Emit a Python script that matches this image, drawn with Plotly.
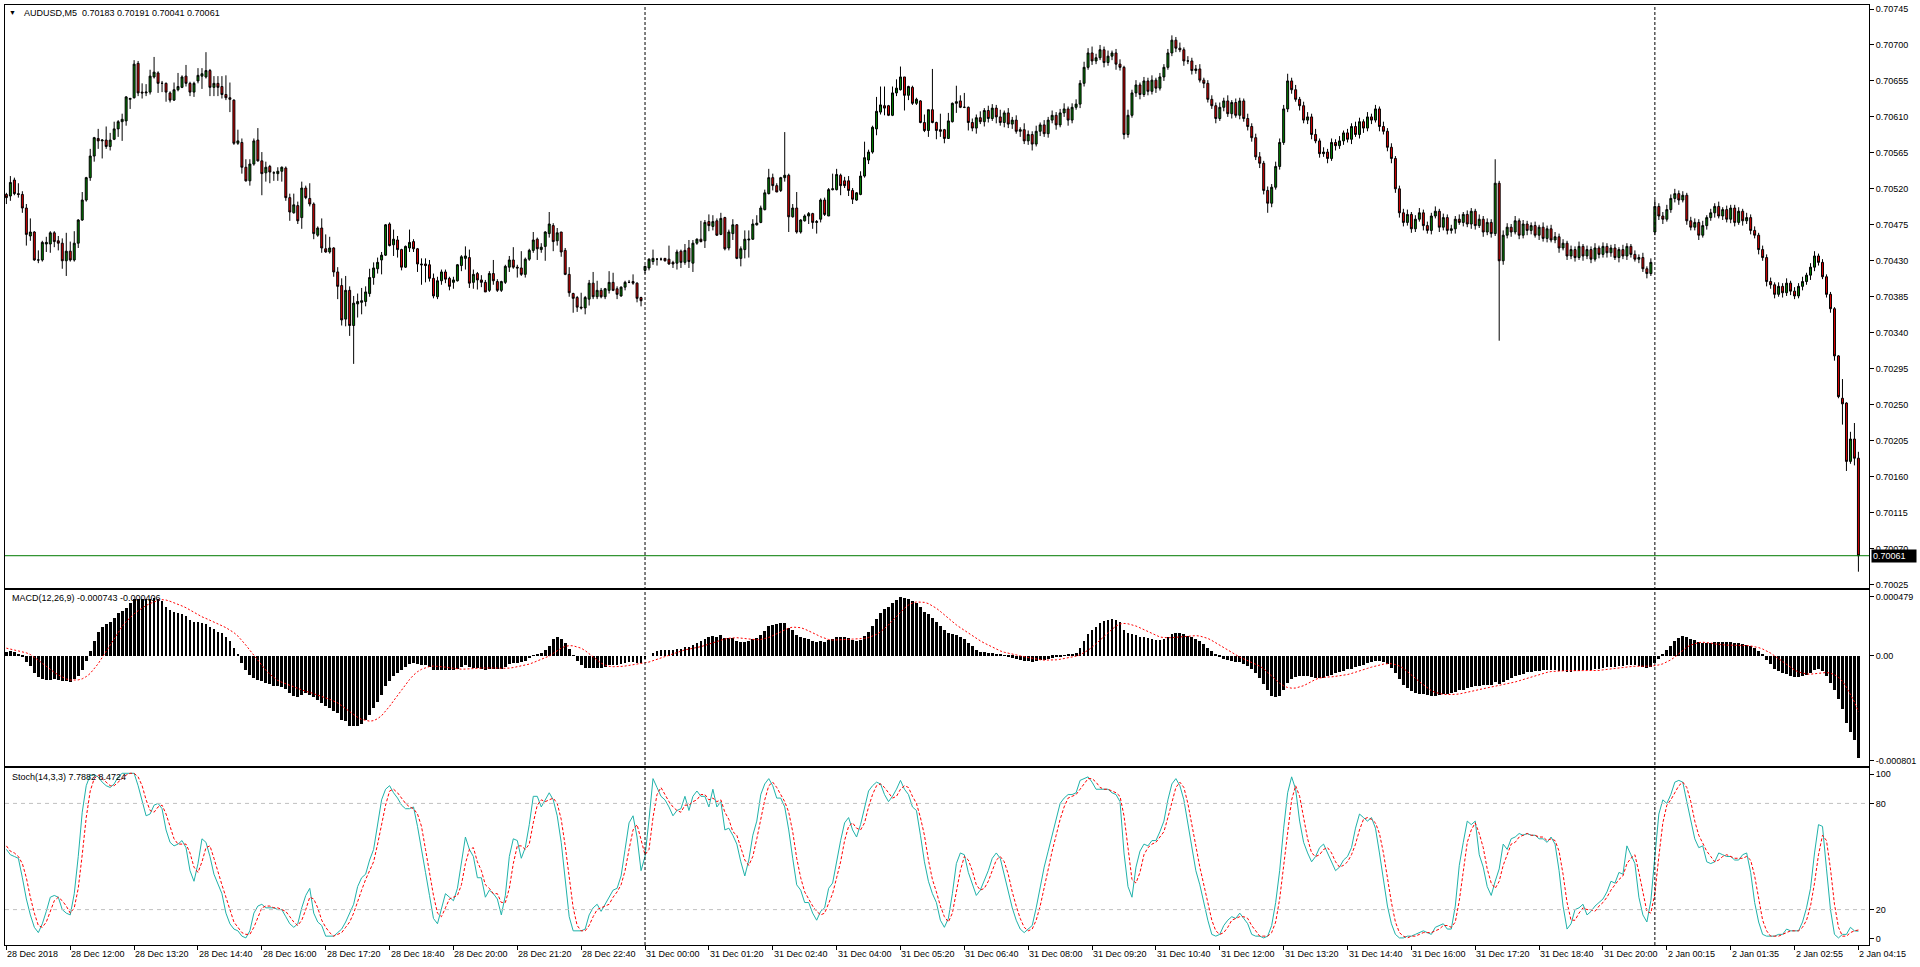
import plotly.graph_objects as go
from plotly.subplots import make_subplots

# ---- AUDUSD M5 bars, prices in points above 0.70000 (28 Dec 2018 10:40 .. 2 Jan 2019 04:15) ----
opens = [
    513, 511, 531, 514, 513, 496, 461, 466, 431, 431,
    451, 451, 465, 455, 452, 430, 442, 431, 452, 481,
    506, 534, 561, 583, 580, 581, 573, 582, 595, 604,
    605, 632, 634, 677, 641, 640, 641, 660, 665, 652,
    652, 640, 631, 644, 647, 661, 652, 641, 655, 661,
    660, 668, 647, 652, 648, 638, 634, 631, 577, 578,
    547, 530, 551, 581, 555, 540, 548, 540, 539, 542,
    546, 509, 490, 499, 484, 521, 508, 501, 462, 471,
    445, 441, 446, 416, 399, 357, 393, 349, 376, 378,
    379, 389, 409, 420, 431, 437, 476, 450, 456, 444,
    422, 446, 454, 445, 426, 426, 425, 408, 385, 405,
    416, 408, 403, 405, 424, 433, 434, 403, 414, 406,
    403, 393, 414, 404, 393, 403, 422, 431, 422, 421,
    413, 432, 443, 457, 444, 448, 464, 474, 455, 466,
    443, 413, 389, 384, 372, 371, 382, 402, 385, 393,
    385, 393, 403, 395, 386, 397, 403, 404, 402, 384,
    418, 421, 429, 432, 432, 433, 432, 428, 427, 442,
    428, 446, 427, 452, 457, 455, 479, 473, 480, 463,
    484, 446, 464, 475, 433, 444, 456, 457, 475, 478,
    494, 514, 534, 524, 518, 534, 537, 485, 496, 466,
    480, 486, 489, 478, 482, 506, 486, 519, 519, 537,
    530, 530, 518, 506, 513, 536, 556, 566, 595, 616,
    624, 624, 612, 640, 644, 660, 637, 647, 627, 630,
    603, 593, 619, 603, 594, 594, 583, 604, 627, 630,
    622, 622,
    603, 596, 609, 604, 618, 608, 621, 610, 603, 615,
    601, 606, 592, 594, 580, 588, 576, 592, 600, 589,
    606, 612, 600, 615, 620, 606, 622, 626, 652, 672,
    690, 680, 684, 694, 678, 686, 690, 676, 672, 588,
    612, 640, 650, 638, 655, 642, 656, 646, 660, 672,
    690, 706, 696, 694, 680, 680, 668, 670, 656, 652,
    632, 624, 608, 622, 630, 614, 628, 612, 630, 608,
    598, 584, 560, 552, 518, 502, 522, 548, 578, 620,
    655, 644, 632, 624, 606, 610, 588, 580, 564, 566,
    558, 578, 574, 580, 590, 582, 598, 588, 604, 596,
    610, 606, 620, 598, 592, 572, 558, 520, 490, 478,
    488, 470, 482, 490, 474, 468, 486, 492, 472, 484,
    468, 470, 482, 478, 488, 476, 492, 474, 482, 466,
    478, 464, 527, 430, 462, 472, 466, 480, 462, 476,
    468, 474, 462, 472, 458, 470, 456, 460, 446, 452,
    436, 444, 434, 448, 436, 444, 432, 446, 438, 448,
    440, 446, 434, 444, 436, 448, 438, 432, 434, 420, 414,
    466, 498, 486, 482, 494, 508, 514, 506, 512, 480,
    472, 478, 462, 474, 484, 490, 498, 486, 494, 482,
    496, 478, 492, 480, 484, 468, 462, 444, 434, 404,
    400, 388, 398, 390, 402, 392, 386, 398, 404, 412,
    422, 436, 428, 410, 388, 370, 311, 258, 252, 179, 207, 183,
]
highs = [
    515, 536, 534, 527, 517, 501, 483, 467, 443, 455,
    460, 467, 467, 461, 458, 465, 454, 467, 482, 516,
    535, 570, 585, 595, 582, 598, 590, 604, 606, 614,
    636, 634, 681, 680, 652, 651, 669, 685, 667, 655,
    653, 642, 653, 665, 662, 675, 654, 654, 671, 671,
    691, 670, 661, 661, 661, 662, 653, 632, 594, 583,
    557, 557, 583, 596, 566, 554, 550, 542, 547, 548,
    548, 514, 514, 504, 529, 524, 527, 503, 473, 483,
    463, 460, 447, 422, 408, 411, 398, 386, 389, 396,
    398, 420, 428, 434, 441, 476, 478, 469, 461, 445,
    449, 469, 457, 446, 433, 433, 431, 414, 410, 419,
    419, 410, 410, 426, 437, 448, 444, 419, 416, 412,
    406, 417, 431, 407, 405, 425, 436, 447, 425, 442,
    434, 445, 466, 459, 452, 467, 491, 477, 471, 466,
    446, 422, 390, 386, 390, 386, 406, 416, 405, 396,
    396, 417, 415, 398, 398, 405, 406, 413, 403, 385,
    424, 433, 444, 433, 434, 433, 449, 430, 444, 444,
    451, 456, 456, 458, 480, 481, 488, 487, 483, 490,
    485, 469, 482, 476, 448, 468, 468, 482, 487, 499,
    519, 545, 539, 527, 535, 591, 539, 501, 516, 482,
    488, 491, 490, 481, 508, 509, 521, 539, 545, 539,
    535, 536, 521, 516, 542, 579, 569, 599, 635, 648,
    648, 625, 648, 657, 673, 660, 649, 649, 634, 631,
    613, 619, 670, 604, 614, 595, 615, 628, 649, 637,
    640, 623,
    608, 613, 617, 621, 624, 626, 625, 619, 618, 621,
    610, 612, 597, 602, 593, 592, 599, 603, 606, 610,
    618, 616, 620, 627, 623, 627, 632, 656, 679, 696,
    698, 689, 700, 698, 693, 693, 695, 682, 674, 619,
    644, 656, 653, 660, 659, 662, 659, 665, 676, 695,
    712, 710, 703, 697, 686, 684, 675, 676, 659, 656,
    637, 628, 628, 634, 637, 631, 633, 634, 633, 614,
    602, 589, 566, 555, 523, 526, 554, 583, 625, 664,
    659, 650, 635, 629, 616, 614, 595, 583, 572, 570,
    583, 582, 586, 593, 595, 602, 604, 609, 607, 616,
    614, 625, 623, 604, 596, 577, 561, 524, 495, 494,
    491, 487, 496, 494, 479, 490, 498, 495, 489, 488,
    475, 486, 488, 491, 493, 496, 495, 488, 486, 483,
    482, 557, 530, 468, 477, 476, 486, 483, 481, 480,
    478, 479, 475, 478, 474, 475, 466, 464, 457, 455,
    449, 448, 454, 451, 449, 448, 452, 449, 453, 452,
    450, 451, 447, 450, 452, 451, 443, 438, 440, 423, 433,
    506, 502, 491, 500, 513, 520, 518, 517, 515, 485,
    483, 482, 480, 487, 495, 502, 504, 497, 499, 500,
    500, 497, 495, 490, 488, 473, 465, 449, 438, 409,
    403, 403, 402, 408, 405, 397, 402, 410, 415, 427,
    442, 439, 432, 413, 391, 372, 312, 282, 253, 216, 227, 191,
]
lows = [
    501, 505, 512, 509, 490, 449, 455, 430, 427, 429,
    441, 440, 447, 443, 420, 411, 429, 429, 446, 480,
    504, 530, 554, 570, 558, 570, 568, 581, 585, 580,
    599, 620, 633, 636, 633, 636, 638, 658, 640, 641,
    629, 628, 630, 642, 646, 648, 636, 635, 652, 645,
    658, 636, 636, 636, 633, 631, 616, 575, 575, 539,
    529, 524, 549, 554, 512, 529, 527, 530, 530, 529,
    505, 480, 489, 476, 470, 507, 498, 457, 460, 440,
    440, 439, 410, 382, 349, 348, 336, 301, 359, 363,
    373, 385, 400, 414, 413, 436, 448, 436, 434, 418,
    421, 441, 441, 416, 400, 403, 404, 383, 382, 400,
    402, 393, 395, 404, 417, 419, 396, 395, 394, 397,
    391, 391, 400, 391, 391, 401, 416, 420, 409, 411,
    409, 430, 440, 431, 440, 430, 459, 442, 449, 435,
    412, 385, 365, 366, 369, 363, 374, 382, 382, 383,
    382, 389, 392, 382, 385, 393, 402, 400, 378, 373,
    414, 418, 425, 424, 430, 429, 425, 421, 419, 421,
    425, 421, 416, 450, 453, 446, 467, 468, 461, 462,
    443, 443, 456, 432, 423, 433, 434, 456, 474, 477,
    493, 513, 518, 516, 516, 529, 466, 484, 464, 464,
    479, 476, 470, 464, 478, 486, 486, 518, 518, 512,
    521, 511, 501, 505, 512, 534, 551, 564, 587, 613,
    612, 611, 611, 636, 643, 618, 631, 625, 625, 602,
    591, 585, 602, 582, 585, 577, 583, 603, 615, 621,
    621, 593,
    592, 589, 601, 598, 603, 605, 602, 599, 597, 596,
    595, 589, 585, 576, 575, 568, 573, 586, 585, 584,
    602, 594, 597, 610, 599, 602, 619, 621, 648, 669,
    675, 676, 681, 672, 674, 681, 669, 668, 582, 584,
    609, 635, 632, 635, 637, 638, 640, 643, 655, 669,
    686, 691, 691, 674, 676, 663, 664, 653, 646, 628,
    620, 602, 605, 617, 610, 608, 609, 607, 604, 593,
    579, 556, 546, 513, 490, 497, 519, 544, 575, 616,
    639, 629, 618, 602, 601, 582, 577, 559, 560, 552,
    555, 568, 570, 575, 578, 576, 585, 583, 590, 592,
    601, 603, 592, 588, 567, 552, 515, 484, 473, 474,
    465, 466, 479, 468, 464, 463, 483, 466, 468, 463,
    464, 464, 475, 473, 472, 470, 469, 471, 460, 462,
    459, 461, 330, 425, 458, 460, 463, 457, 458, 462,
    463, 459, 456, 454, 453, 453, 452, 440, 443, 431,
    432, 429, 431, 430, 432, 427, 429, 433, 434, 434,
    435, 431, 428, 432, 431, 434, 429, 427, 416, 408, 411,
    462, 481, 476, 479, 490, 503, 500, 503, 475, 468,
    468, 456, 459, 469, 480, 484, 483, 481, 478, 477,
    473, 475, 474, 476, 463, 458, 438, 430, 398, 395,
    383, 385, 384, 386, 387, 382, 383, 393, 400, 406,
    417, 424, 407, 384, 365, 305, 258, 225, 167, 176, 174, 41,
]
closes = [
    509, 528, 514, 513, 496, 463, 466, 431, 431, 453,
    453, 465, 454, 452, 430, 442, 431, 452, 481, 506,
    534, 561, 584, 580, 581, 573, 581, 595, 604, 607,
    635, 633, 676, 640, 640, 641, 661, 666, 652, 652,
    641, 631, 644, 648, 660, 652, 641, 652, 662, 664,
    668, 647, 652, 647, 638, 634, 632, 577, 580, 547,
    530, 551, 580, 555, 539, 547, 541, 540, 542, 547,
    509, 491, 500, 480, 521, 509, 501, 464, 471, 446,
    441, 446, 416, 398, 356, 393, 349, 377, 379, 380,
    391, 409, 421, 428, 437, 475, 449, 457, 444, 422,
    448, 453, 445, 426, 425, 424, 408, 386, 405, 416,
    407, 398, 406, 425, 435, 436, 402, 413, 406, 403,
    391, 414, 405, 393, 404, 423, 431, 422, 421, 413,
    432, 443, 456, 445, 447, 466, 476, 454, 465, 441,
    413, 390, 383, 372, 371, 384, 402, 385, 393, 385,
    395, 403, 393, 388, 397, 403, 403, 402, 383, 380,
    423, 432, 433, 432, 432, 430, 426, 426, 441, 428,
    443, 429, 452, 457, 454, 478, 474, 479, 462, 483,
    445, 466, 475, 433, 445, 457, 457, 476, 477, 496,
    515, 534, 524, 516, 534, 537, 485, 496, 466, 481,
    486, 489, 478, 479, 506, 488, 519, 520, 538, 524,
    524, 518, 507, 515, 536, 559, 566, 597, 617, 625,
    621, 612, 640, 646, 660, 637, 648, 627, 632, 603,
    593, 619, 603, 593, 592, 583, 605, 627, 629, 622,
    622, 603,
    596, 609, 604, 618, 608, 621, 610, 603, 615, 601,
    606, 592, 594, 580, 588, 576, 592, 600, 589, 606,
    612, 600, 615, 620, 606, 622, 626, 652, 672, 690,
    680, 684, 694, 678, 686, 690, 676, 672, 588, 612,
    640, 650, 638, 655, 642, 656, 646, 660, 672, 690,
    706, 696, 694, 680, 680, 668, 670, 656, 652, 632,
    624, 608, 622, 630, 614, 628, 612, 630, 608, 598,
    584, 560, 552, 518, 502, 522, 548, 578, 620, 655,
    644, 632, 624, 606, 610, 588, 580, 564, 566, 558,
    578, 574, 580, 590, 582, 598, 588, 604, 596, 610,
    606, 620, 598, 592, 572, 558, 520, 490, 478, 488,
    470, 482, 490, 474, 468, 486, 492, 472, 484, 468,
    470, 482, 478, 488, 476, 492, 474, 482, 466, 478,
    464, 527, 430, 462, 472, 466, 480, 462, 476, 468,
    474, 462, 472, 458, 470, 456, 460, 446, 452, 436,
    444, 434, 448, 436, 444, 432, 446, 438, 448, 440,
    446, 434, 444, 436, 448, 438, 432, 434, 420, 414, 428,
    498, 486, 482, 494, 508, 514, 506, 512, 480, 472,
    478, 462, 474, 484, 490, 498, 486, 494, 482, 496,
    478, 492, 480, 484, 468, 462, 444, 434, 404, 400,
    388, 398, 390, 402, 392, 386, 398, 404, 412, 422,
    436, 428, 410, 388, 370, 311, 260, 251, 179, 207, 183, 61,
]

# ---- MACD(12,26,9): main (histogram) and signal, units of 1e-6 ----
macd_main = [
    31, 36, 31, 14, -5, -41, -72, -121, -157, -169,
    -174, -174, -169, -174, -186, -186, -191, -169, -150, -101,
    -34, 38, 111, 172, 213, 232, 249, 278, 309, 326,
    350, 382, 411, 413, 413, 413, 413, 418, 413, 401,
    358, 333, 321, 309, 304, 290, 261, 249, 244, 242,
    230, 208, 196, 177, 164, 135, 109, 60, 15, -50,
    -105, -140, -160, -174, -186, -198, -205, -217, -222, -227,
    -242, -271, -290, -300, -283, -271, -283, -300, -324, -343,
    -362, -379, -399, -416, -464, -476, -512, -512, -507, -493,
    -464, -428, -379, -338, -283, -222, -186, -150, -126, -100,
    -80, -60, -55, -60, -65, -70, -80, -100, -105, -100,
    -100, -105, -105, -95, -80, -70, -80, -85, -88, -92,
    -100, -92, -92, -98, -95, -80, -62, -55, -50, -48,
    -35, -18, 5, 10, 18, 40, 70, 120, 135, 125,
    95, 50, 5, -35, -65, -85, -85, -90, -85, -85,
    -80, -70, -68, -68, -62, -55, -48, -44, -50, -55,
    -25, 0, 20, 32, 40, 45, 45, 43, 50, 50,
    68, 65, 80, 95, 105, 125, 135, 145, 140, 150,
    130, 130, 132, 105, 98, 102, 105, 120, 128, 150,
    180, 215, 228, 232, 240, 242, 205, 185, 155, 140,
    130, 122, 108, 98, 105, 100, 115, 120, 138, 140,
    138, 130, 112, 105, 115, 145, 175, 215, 265, 310,
    340, 355, 385, 405, 425, 420, 415, 398, 385, 352,
    318, 305, 275, 245, 215, 185, 168, 160, 155, 140,
    120, 95, 70, 45, 30, 25, 20, 20, 15, 8,
    5, -2, -12, -20, -30, -38, -40, -45, -38, -30,
    -28, -20, -12, -8, -2, 5, 8, 15, 22, 60,
    110, 160, 190, 210, 240, 255, 262, 268, 262, 245,
    190, 165, 158, 150, 140, 135, 128, 124, 118, 118,
    125, 140, 160, 168, 165, 158, 148, 135, 120, 105,
    85, 60, 35, 10, -8, -20, -30, -38, -45, -48,
    -58, -75, -95, -125, -160, -205, -250, -290, -300, -290,
    -250, -200, -170, -155, -150, -150, -150, -155, -160, -160,
    -158, -150, -140, -128, -120, -108, -98, -92, -82, -75,
    -65, -55, -45, -38, -40, -48, -62, -85, -125, -170,
    -210, -235, -258, -270, -275, -280, -288, -292, -290, -285,
    -278, -275, -272, -262, -250, -245, -235, -228, -222, -220,
    -215, -212, -212, -190, -205, -190, -175, -160, -150, -138,
    -130, -120, -118, -110, -108, -102, -104, -100, -104, -108,
    -112, -118, -116, -110, -110, -106, -104, -100, -94, -92,
    -88, -82, -80, -80, -76, -74, -68, -66, -68, -72,
    -80, -90, -82, -50, -20, 10, 40, 75, 108, 130,
    148, 140, 125, 115, 100, 92, 90, 92, 100, 100,
    98, 100, 98, 90, 92, 88, 80, 70, 55, 35,
    10, -30, -62, -92, -110, -128, -135, -145, -155, -155,
    -150, -140, -125, -100, -95, -110, -150, -195, -250, -313,
    -387, -490, -551, -612, -743,
]
macd_signal = [
    56, 50, 44, 38, 31, 22, 10, -8, -32, -54,
    -77, -100, -120, -139, -155, -168, -176, -177, -175, -167,
    -151, -128, -96, -57, -12, 35, 81, 129, 174, 214,
    249, 279, 306, 328, 348, 366, 381, 393, 403, 409,
    406, 397, 387, 375, 363, 350, 332, 314, 297, 284,
    272, 260, 247, 233, 219, 205, 189, 169, 144, 113,
    78, 41, 3, -34, -70, -104, -134, -159, -179, -192,
    -203, -216, -229, -241, -251, -258, -265, -274, -285, -296,
    -306, -316, -327, -342, -363, -385, -408, -429, -447, -462,
    -471, -475, -471, -457, -435, -403, -367, -327, -286, -246,
    -207, -172, -140, -115, -98, -85, -77, -74, -75, -77,
    -82, -87, -92, -96, -97, -96, -93, -91, -90, -89,
    -88, -87, -87, -89, -91, -91, -89, -85, -80, -75,
    -68, -60, -49, -37, -26, -15, -1, 18, 38, 56,
    69, 74, 73, 67, 56, 38, 16, -9, -33, -53,
    -67, -76, -79, -80, -77, -74, -69, -64, -61, -58,
    -53, -45, -35, -25, -14, -4, 6, 16, 28, 36,
    44, 49, 54, 60, 67, 76, 86, 96, 106, 116,
    123, 128, 132, 132, 129, 126, 121, 119, 117, 119,
    124, 134, 147, 162, 178, 193, 202, 209, 209, 205,
    195, 183, 170, 154, 139, 127, 119, 115, 115, 116,
    118, 120, 122, 122, 124, 127, 133, 142, 156, 175,
    198, 225, 256, 288, 319, 347, 369, 384, 392, 393,
    389, 380, 366, 346, 323, 298, 272, 247, 225, 205,
    185, 165, 145, 126, 109, 93, 78, 63, 49, 36,
    26, 18, 12, 7, 0, -6, -13, -19, -24, -28,
    -31, -32, -31, -29, -25, -20, -14, -8, -2, 8,
    22, 41, 63, 87, 113, 140, 168, 195, 217, 232,
    236, 233, 227, 217, 204, 190, 175, 159, 145, 137,
    133, 131, 132, 135, 138, 142, 144, 146, 147, 144,
    138, 127, 112, 95, 77, 58, 40, 22, 5, -9,
    -22, -35, -46, -59, -75, -94, -118, -145, -173, -199,
    -218, -230, -235, -234, -228, -217, -202, -186, -171, -161,
    -156, -154, -153, -150, -147, -142, -136, -128, -120, -110,
    -101, -91, -82, -73, -66, -60, -57, -57, -63, -74,
    -91, -113, -137, -163, -188, -212, -235, -253, -266, -275,
    -280, -281, -282, -280, -277, -272, -266, -259, -252, -245,
    -239, -232, -227, -220, -215, -210, -205, -198, -190, -181,
    -172, -162, -154, -143, -134, -126, -120, -114, -111, -108,
    -107, -107, -108, -108, -109, -109, -110, -109, -108, -106,
    -102, -98, -95, -92, -88, -85, -82, -78, -76, -74,
    -74, -75, -75, -72, -66, -58, -46, -29, -9, 16,
    41, 63, 79, 90, 97, 99, 97, 93, 87, 83,
    80, 78, 78, 78, 78, 78, 75, 72, 67, 60,
    50, 37, 20, 0, -21, -43, -64, -84, -103, -117,
    -126, -132, -133, -130, -126, -122, -121, -126, -137, -156,
    -185, -229, -279, -335, -406,
]
macd_scale = [-801, 479]

# ---- Stoch(14,3,3): %K and %D ----
stoch_main = [
    54, 51, 50, 49, 38, 26, 17, 10, 7, 12,
    19, 27, 28, 27, 20, 18, 17, 29, 50, 75,
    90, 96, 96, 95, 92, 90, 89, 91, 95, 97,
    97, 97, 97, 90, 82, 73, 74, 79, 80, 77,
    65, 58, 56, 57, 59, 55, 42, 36, 46, 60,
    58, 50, 40, 34, 29, 18, 12, 9, 8, 5,
    4, 8, 18, 22, 23, 21, 21, 21, 20, 20,
    16, 12, 10, 12, 21, 28, 32, 18, 13, 11,
    5, 5, 5, 7, 9, 13, 18, 23, 33, 38,
    40, 48, 54, 68, 82, 88, 90, 86, 83, 79,
    77, 77, 78, 67, 55, 41, 28, 15, 12, 21,
    29, 27, 25, 32, 46, 61, 54, 50, 38, 38,
    27, 31, 29, 26, 17, 28, 50, 60, 59, 49,
    55, 68, 84, 84, 78, 82, 86, 82, 73, 58,
    38, 16, 8, 8, 8, 9, 17, 21, 23, 19,
    23, 27, 31, 32, 39, 54, 69, 73, 61, 42,
    50, 71, 94, 89, 84, 82, 78, 73, 76, 77,
    84, 76, 84, 87, 84, 84, 78, 88, 78, 81,
    65, 66, 62, 57, 47, 39, 48, 62, 70, 85,
    91, 94, 90, 83, 83, 78, 65, 49, 34, 31,
    24, 24, 18, 14, 19, 21, 32, 35, 48, 59,
    69, 72, 65, 61, 68, 78, 87, 90, 92, 91,
    85, 81, 84, 88, 93, 88, 85, 78, 76, 62,
    47, 36, 29, 24, 14, 10, 15, 29, 46, 52,
    51, 41, 34, 28, 31, 36, 42, 49, 52, 49,
    40, 30, 21, 14, 9, 7, 9, 11, 21, 33,
    44, 53, 62, 71, 80, 83, 85, 85, 86, 93,
    94, 95, 92, 88, 88, 88, 88, 86, 85, 81,
    52, 33, 27, 44, 53, 57, 56, 59, 59, 64,
    70, 82, 91, 94, 90, 82, 69, 56, 42, 34,
    23, 14, 6, 5, 6, 11, 14, 16, 15, 18,
    15, 12, 6, 5, 5, 4, 5, 11, 24, 42,
    66, 86, 95, 88, 70, 58, 52, 47, 50, 55,
    57, 52, 46, 42, 44, 48, 50, 55, 66, 74,
    72, 70, 72, 66, 52, 38, 22, 12, 6, 4,
    4, 5, 5, 6, 7, 8, 7, 6, 10, 11,
    12, 9, 9, 22, 45, 58, 70, 68, 70, 51,
    44, 33, 28, 36, 43, 57, 54, 60, 61, 63,
    62, 63, 62, 62, 60, 60, 58, 61, 57, 42,
    22, 9, 12, 20, 21, 23, 17, 19, 22, 24,
    26, 30, 36, 35, 41, 40, 56, 51, 46, 27,
    17, 13, 25, 50, 74, 82, 80, 85, 92, 93,
    92, 81, 70, 60, 55, 56, 47, 46, 47, 52,
    51, 50, 50, 48, 48, 51, 52, 41, 24, 13,
    6, 5, 5, 5, 6, 6, 9, 8, 8, 8,
    13, 21, 32, 52, 68, 67, 43, 20, 6, 4,
    6, 6, 10, 8, 7.7882,
]
stoch_signal = [
    56, 53, 52, 50, 46, 38, 27, 18, 11, 10,
    13, 19, 25, 27, 25, 22, 18, 21, 32, 51,
    72, 87, 94, 96, 94, 92, 90, 90, 92, 94,
    96, 97, 97, 95, 90, 82, 76, 75, 78, 79,
    74, 67, 60, 57, 57, 57, 52, 44, 41, 47,
    55, 56, 49, 41, 34, 27, 20, 13, 10, 7,
    6, 6, 10, 16, 21, 22, 22, 21, 21, 20,
    19, 16, 13, 11, 14, 20, 27, 26, 21, 14,
    10, 7, 5, 6, 7, 10, 13, 18, 25, 31,
    37, 42, 47, 57, 68, 79, 87, 88, 86, 83,
    80, 78, 77, 74, 67, 54, 41, 28, 18, 16,
    21, 26, 27, 28, 34, 46, 54, 55, 47, 42,
    34, 32, 29, 29, 24, 24, 32, 46, 56, 56,
    54, 57, 69, 79, 82, 81, 82, 83, 80, 71,
    56, 37, 21, 11, 8, 8, 11, 16, 20, 21,
    22, 23, 27, 30, 34, 42, 54, 65, 68, 59,
    51, 54, 72, 85, 89, 85, 81, 78, 76, 75,
    79, 79, 81, 82, 85, 85, 82, 83, 81, 82,
    75, 71, 64, 62, 55, 48, 45, 50, 60, 72,
    82, 90, 92, 89, 85, 81, 75, 64, 49, 38,
    30, 26, 22, 19, 17, 18, 24, 29, 38, 47,
    59, 67, 69, 66, 65, 69, 78, 85, 90, 91,
    89, 86, 83, 84, 88, 90, 89, 84, 80, 72,
    62, 48, 37, 30, 22, 16, 13, 18, 30, 42,
    50, 48, 42, 34, 31, 32, 36, 42, 48, 50,
    47, 40, 30, 22, 15, 10, 8, 9, 14, 22,
    33, 43, 53, 62, 71, 78, 83, 84, 85, 88,
    91, 94, 94, 92, 89, 88, 88, 87, 86, 84,
    73, 55, 37, 35, 41, 51, 55, 57, 58, 61,
    64, 72, 81, 89, 92, 89, 80, 69, 56, 44,
    33, 24, 14, 8, 6, 7, 10, 14, 15, 16,
    16, 15, 11, 8, 5, 5, 5, 7, 13, 26,
    44, 65, 82, 90, 84, 72, 60, 52, 50, 51,
    54, 55, 52, 47, 44, 45, 47, 51, 57, 65,
    71, 72, 71, 69, 63, 52, 37, 24, 13, 7,
    5, 4, 5, 5, 6, 7, 7, 7, 8, 9,
    11, 11, 10, 13, 25, 42, 58, 65, 69, 63,
    55, 43, 35, 32, 36, 45, 51, 57, 58, 61,
    62, 63, 62, 62, 61, 61, 59, 60, 59, 53,
    40, 24, 14, 14, 18, 21, 20, 20, 19, 22,
    24, 27, 31, 34, 37, 39, 46, 49, 51, 41,
    30, 19, 18, 29, 50, 69, 79, 82, 86, 90,
    92, 89, 81, 70, 62, 57, 53, 50, 47, 48,
    50, 51, 50, 49, 49, 49, 50, 48, 39, 26,
    14, 8, 5, 5, 5, 6, 7, 8, 8, 8,
    10, 14, 22, 35, 51, 62, 59, 43, 23, 10,
    5, 5, 7, 8, 8.4724,
]

session_bars = [160, 253, 52]          # bars per day shown: 28 Dec, 31 Dec, 2 Jan
x_labels = ["28 Dec 2018", "28 Dec 12:00", "28 Dec 13:20", "28 Dec 14:40", "28 Dec 16:00",
            "28 Dec 17:20", "28 Dec 18:40", "28 Dec 20:00", "28 Dec 21:20", "28 Dec 22:40",
            "31 Dec 00:00", "31 Dec 01:20", "31 Dec 02:40", "31 Dec 04:00", "31 Dec 05:20",
            "31 Dec 06:40", "31 Dec 08:00", "31 Dec 09:20", "31 Dec 10:40", "31 Dec 12:00",
            "31 Dec 13:20", "31 Dec 14:40", "31 Dec 16:00", "31 Dec 17:20", "31 Dec 18:40",
            "31 Dec 20:00", "2 Jan 00:15", "2 Jan 01:35", "2 Jan 02:55", "2 Jan 04:15"]
price_levels = [25, 70, 115, 160, 205, 250, 295, 340, 385, 430, 475, 520, 565, 610, 655, 700, 745]
price_scale = [20.6, 750.0]
title_text = "AUDUSD,M5  0.70183 0.70191 0.70041 0.70061"
macd_text = "MACD(12,26,9) -0.000743 -0.000406"
stoch_text = "Stoch(14,3,3) 7.7882 8.4724"

BASE = 0.70000
def pr(v):
    return round(BASE + v / 1e5, 6)

n_total = sum(session_bars)
xs = list(range(len(opens)))
last_bid = closes[-1]
FAM = "Liberation Sans, Arial, sans-serif"
FONT = dict(family=FAM, size=9, color="black")

fig = make_subplots(rows=3, cols=1, shared_xaxes=True, vertical_spacing=0.002)

fig.add_trace(go.Candlestick(
    x=xs, open=[pr(v) for v in opens], high=[pr(v) for v in highs],
    low=[pr(v) for v in lows], close=[pr(v) for v in closes],
    increasing=dict(line=dict(color="black", width=1), fillcolor="#008000"),
    decreasing=dict(line=dict(color="black", width=1), fillcolor="#e00000"),
    whiskerwidth=0, showlegend=False, hoverinfo="skip"), row=1, col=1)

fig.add_trace(go.Bar(x=list(range(len(macd_main))), y=[v * 1e-6 for v in macd_main],
                     marker=dict(color="black", line=dict(width=0)), width=0.7,
                     showlegend=False, hoverinfo="skip"), row=2, col=1)
fig.add_trace(go.Scatter(x=list(range(len(macd_signal))), y=[v * 1e-6 for v in macd_signal],
                         mode="lines", line=dict(color="red", width=1, dash="2px,2px"),
                         showlegend=False, hoverinfo="skip"), row=2, col=1)
fig.add_trace(go.Scatter(x=list(range(len(stoch_main))), y=stoch_main, mode="lines",
                         line=dict(color="#20B2AA", width=1), showlegend=False,
                         hoverinfo="skip"), row=3, col=1)
fig.add_trace(go.Scatter(x=list(range(len(stoch_signal))), y=stoch_signal, mode="lines",
                         line=dict(color="red", width=1, dash="3px,2px"), showlegend=False,
                         hoverinfo="skip"), row=3, col=1)

xcommon = dict(range=[-0.35, n_total + 1.65], showgrid=False, zeroline=False, showline=True,
               mirror=True, linecolor="black", linewidth=1, rangeslider=dict(visible=False),
               showticklabels=False, fixedrange=True)
fig.update_xaxes(**xcommon)
fig.update_xaxes(ticks="outside", ticklen=4, tickcolor="black", tickwidth=1,
                 tickvals=[16 * k for k in range(len(x_labels))], row=3, col=1)

ycommon = dict(side="right", showgrid=False, zeroline=False, showline=True, mirror=True,
               linecolor="black", linewidth=1, ticks="outside", ticklen=4, tickcolor="black",
               tickwidth=1, tickfont=FONT, fixedrange=True)
fig.update_yaxes(**ycommon)
fig.update_layout(
    yaxis=dict(domain=[0.37979, 1.0], range=[pr(price_scale[0]), pr(price_scale[1])],
               tickvals=[pr(v) for v in price_levels],
               ticktext=["%.5f" % pr(v) for v in price_levels]),
    yaxis2=dict(domain=[0.19043, 0.37766], range=[macd_scale[0] * 1e-6, macd_scale[1] * 1e-6],
                tickvals=[(macd_scale[1] - 48) * 1e-6, 0, (macd_scale[0] + 40) * 1e-6],
                ticktext=["%.6f" % (macd_scale[1] * 1e-6), "0.00", "%.6f" % (macd_scale[0] * 1e-6)]),
    yaxis3=dict(domain=[0.0, 0.18830], range=[0, 100], tickvals=[96.6, 80, 20, 3.4],
                ticktext=["100", "80", "20", "0"]),
)

shapes = []
cum = 0
for nb in session_bars[:-1]:
    cum += nb
    shapes.append(dict(type="line", xref="x", yref="paper", x0=cum, x1=cum, y0=0, y1=1,
                       line=dict(color="black", width=1, dash="3px,2px")))
for lv in (20, 80):
    shapes.append(dict(type="line", xref="x3 domain", yref="y3", x0=0, x1=1, y0=lv, y1=lv,
                       line=dict(color="#c0c0c0", width=1, dash="4px,4px")))
shapes.append(dict(type="line", xref="x domain", yref="y", x0=0, x1=1, y0=pr(last_bid),
                   y1=pr(last_bid), line=dict(color="#007a00", width=1)))

ann = []
ann.append(dict(xref="paper", yref="paper", x=0, y=1, xshift=7, yshift=-7.7, xanchor="center",
                yanchor="middle", text="▼", showarrow=False,
                font=dict(family=FAM, size=7, color="black")))
ann.append(dict(xref="paper", yref="paper", x=0, y=1, xshift=16.5, yshift=-7.7, xanchor="left",
                yanchor="middle", text=title_text.replace("  ", "&nbsp;&nbsp;"), showarrow=False,
                font=FONT))
ann.append(dict(xref="paper", yref="y2 domain", x=0, y=1, xshift=5, yshift=-8, xanchor="left",
                yanchor="middle", text=macd_text, showarrow=False, font=FONT))
ann.append(dict(xref="paper", yref="y3 domain", x=0, y=1, xshift=5, yshift=-9.5, xanchor="left",
                yanchor="middle", text=stoch_text, showarrow=False, font=FONT))
ann.append(dict(xref="paper", yref="y", x=1, y=pr(last_bid), xshift=2, xanchor="left",
                yanchor="middle", text="%.5f" % pr(last_bid), showarrow=False, bgcolor="black",
                borderpad=1, width=42, align="left",
                font=dict(family=FAM, size=9, color="white")))
for k, lab in enumerate(x_labels):
    ann.append(dict(xref="x3", yref="paper", x=16 * k, y=0, xshift=-1, yshift=-8.5,
                    xanchor="left", yanchor="middle", text=lab, showarrow=False, font=FONT))

fig.update_layout(width=1920, height=967, margin=dict(l=4, r=48, t=5, b=22),
                  paper_bgcolor="white", plot_bgcolor="white", showlegend=False,
                  boxgap=0.3, boxgroupgap=0.3, bargap=0, hovermode=False, font=FONT,
                  shapes=shapes, annotations=ann)

fig.write_html("out.html", config={"displayModeBar": False},
               post_script="document.body.style.margin='0';document.body.style.overflow='hidden';")
